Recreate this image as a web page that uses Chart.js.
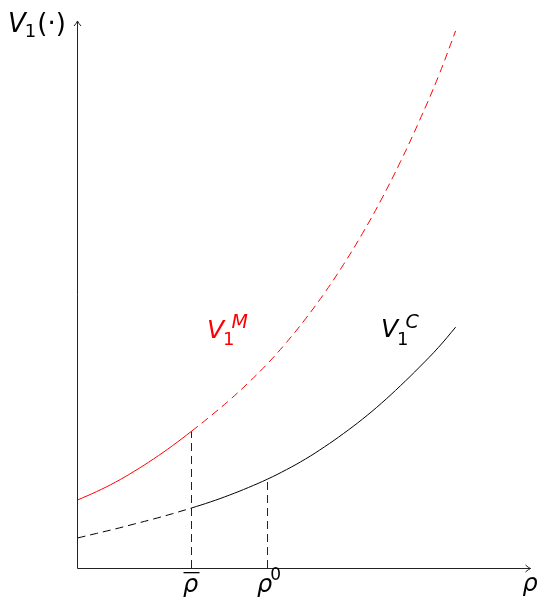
<!DOCTYPE html>
<html>
<head>
<meta charset="utf-8">
<script src="https://cdn.jsdelivr.net/npm/chart.js@4/dist/chart.umd.min.js"></script>
<style>
  html, body { margin: 0; padding: 0; background: #fff; }
</style>
</head>
<body>
<canvas id="c" width="539" height="599"></canvas>
<script>
// value functions sampled along rho
const rho = [0, 0.5, 1, 1.5, 2, 2.5, 3, 3.5, 4, 4.5, 5, 5.5, 6, 6.5, 7, 7.5, 8, 8.5, 9, 9.5, 9.95];
const vMonopoly = [1.79, 2.01, 2.26, 2.55, 2.87, 3.22, 3.60, 4.0, 4.42, 4.88, 5.38, 5.94, 6.56, 7.24, 7.99, 8.81, 9.71, 10.7, 11.78, 12.95, 14.14];
const vCompetitive = [0.79, 0.91, 1.03, 1.16, 1.29, 1.43, 1.58, 1.74, 1.92, 2.12, 2.34, 2.59, 2.87, 3.19, 3.54, 3.92, 4.34, 4.8, 5.29, 5.81, 6.34];

// marked thresholds on the rho axis
const rhoBar = 3;
const rho0 = 5;

const xMax = 11.92;
const yMax = 14.4;
const DASH = [8, 5];

const pts = ys => rho.map((x, i) => ({ x: x, y: ys[i] }));
const valueAt = (ys, x) => ys[rho.indexOf(x)];

const mathFont = (size, italic) => (italic ? 'italic ' : '') + size + 'px "DejaVu Sans", sans-serif';

// draws a run of text pieces left to right
function drawPieces(ctx, x, y, color, pieces) {
  ctx.fillStyle = color;
  ctx.textBaseline = 'alphabetic';
  ctx.textAlign = 'left';
  let cx = x;
  pieces.forEach(p => {
    ctx.font = mathFont(p.size, p.italic);
    cx += p.dx || 0;
    ctx.fillText(p.t, cx, y + (p.dy || 0));
    cx += ctx.measureText(p.t).width;
  });
}

const axesAndLabels = {
  id: 'axesAndLabels',
  afterDatasetsDraw(chart) {
    const ctx = chart.ctx;
    const xs = chart.scales.x, ys = chart.scales.y;
    const x0 = Math.floor(xs.getPixelForValue(0)) + 0.5;
    const y0 = Math.round(ys.getPixelForValue(0)) + 0.5;
    const xEnd = xs.getPixelForValue(xMax);
    const yEnd = ys.getPixelForValue(yMax);

    ctx.save();
    ctx.strokeStyle = '#222';
    ctx.lineWidth = 1;
    ctx.beginPath();
    ctx.moveTo(x0, y0);
    ctx.lineTo(xEnd, y0);
    ctx.moveTo(x0, y0);
    ctx.lineTo(x0, yEnd);
    ctx.stroke();

    // arrow tips
    ctx.beginPath();
    ctx.moveTo(xEnd - 5, y0 - 3.5);
    ctx.quadraticCurveTo(xEnd - 2, y0 - 0.8, xEnd, y0);
    ctx.quadraticCurveTo(xEnd - 2, y0 + 0.8, xEnd - 5, y0 + 3.5);
    ctx.moveTo(x0 - 3.5, yEnd + 5);
    ctx.quadraticCurveTo(x0 - 0.8, yEnd + 2, x0, yEnd);
    ctx.quadraticCurveTo(x0 + 0.8, yEnd + 2, x0 + 3.5, yEnd + 5);
    ctx.stroke();

    // axis labels
    drawPieces(ctx, 8, 32, '#000', [
      { t: 'V', size: 26, italic: true },
      { t: '1', size: 18, dy: 5, dx: -1 },
      { t: '(·)', size: 26, dx: 1 }
    ]);
    drawPieces(ctx, xEnd - 8, 591, '#000', [{ t: 'ρ', size: 24, italic: true }]);

    // threshold labels under the axis
    const pBar = xs.getPixelForValue(rhoBar);
    ctx.font = mathFont(24, true);
    const wr = ctx.measureText('ρ').width;
    drawPieces(ctx, pBar - wr / 2 - 1, 592, '#000', [{ t: 'ρ', size: 24, italic: true }]);
    ctx.fillRect(pBar - 8, 572, 16, 1.3);

    const p0 = xs.getPixelForValue(rho0);
    drawPieces(ctx, p0 - wr / 2 - 3, 592, '#000', [
      { t: 'ρ', size: 24, italic: true },
      { t: '0', size: 17, dy: -12, dx: -2 }
    ]);

    // curve labels
    drawPieces(ctx, 207, 338, '#ff0000', [
      { t: 'V', size: 25, italic: true },
      { t: '1', size: 18, dy: 7, dx: -1 },
      { t: 'M', size: 19, italic: true, dy: -10, dx: -3 }
    ]);
    drawPieces(ctx, 381, 337, '#000', [
      { t: 'V', size: 25, italic: true },
      { t: '1', size: 18, dy: 8, dx: -1 },
      { t: 'C', size: 19, italic: true, dy: -9, dx: -3 }
    ]);
    ctx.restore();
  }
};

new Chart(document.getElementById('c'), {
  type: 'line',
  data: {
    datasets: [
      {
        data: pts(vMonopoly),
        borderColor: '#ff0000',
        borderWidth: 1,
        tension: 0.4,
        segment: { borderDash: c => c.p0.parsed.x >= rhoBar ? DASH : [] }
      },
      {
        data: pts(vCompetitive),
        borderColor: '#000',
        borderWidth: 1,
        tension: 0.4,
        segment: { borderDash: c => c.p0.parsed.x < rhoBar ? DASH : [] }
      },
      {
        data: [{ x: rhoBar, y: 0 }, { x: rhoBar, y: valueAt(vMonopoly, rhoBar) }],
        borderColor: '#222',
        borderWidth: 1,
        borderDash: DASH
      },
      {
        data: [{ x: rho0, y: 0 }, { x: rho0, y: valueAt(vCompetitive, rho0) }],
        borderColor: '#222',
        borderWidth: 1,
        borderDash: DASH
      }
    ]
  },
  options: {
    responsive: false,
    animation: false,
    layout: { padding: { left: 77.5, right: 8.5, top: 21, bottom: 31 } },
    elements: { point: { radius: 0 } },
    plugins: { legend: { display: false }, tooltip: { enabled: false } },
    scales: {
      x: { type: 'linear', min: 0, max: xMax, display: false },
      y: { type: 'linear', min: 0, max: yMax, display: false }
    }
  },
  plugins: [axesAndLabels]
});
</script>
</body>
</html>
